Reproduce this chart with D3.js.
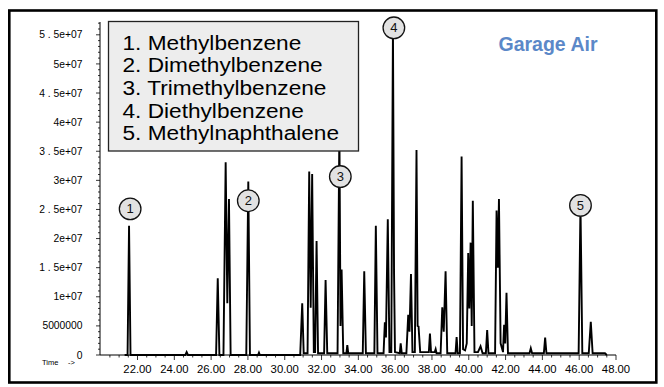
<!DOCTYPE html>
<html><head><meta charset="utf-8">
<script src="https://cdn.jsdelivr.net/npm/d3@7"></script>
<style>html,body{margin:0;padding:0;background:#fff;}svg{display:block;font-family:Arial,"Liberation Sans",sans-serif;}</style>
</head><body>
<svg id="c" width="664" height="387"></svg>
<script>
// ---- data ----
const traceTime = [21.3,21.46,21.54,21.62,24.6,24.67,24.74,26.27,26.36,26.45,26.67,26.79,26.88,26.97,27.06,27.91,28.02,28.11,28.55,28.6,28.65,
30.84,30.95,31.03,31.24,31.33,31.41,31.49,31.58,31.65,31.73,31.81,32.14,32.22,32.31,32.87,32.97,33.03,33.09,33.18,33.35,33.4,33.45,
34.24,34.32,34.41,34.87,34.95,35.04,35.37,35.44,35.5,35.6,35.69,35.79,35.88,35.94,35.99,36.25,36.3,36.36,36.61,36.71,36.78,36.86,36.94,
37.07,37.16,37.22,37.27,37.36,37.83,37.89,37.95,38.15,38.2,38.25,38.47,38.56,38.64,38.74,38.83,39.28,39.34,39.4,39.52,39.61,39.69,
39.8,39.89,39.97,40.03,40.1,40.16,40.22,40.31,40.5,40.64,40.75,40.93,41.0,41.07,41.43,41.51,41.58,41.64,41.73,41.86,41.92,41.98,42.05,42.13,
43.3,43.37,43.44,44.08,44.15,44.22,45.97,46.07,46.17,46.52,46.63,46.73,47.4,47.5];
const traceAbund = [0,0,22.2e6,0,0,0.5e6,0,0,13.2e6,0,0,33.1e6,8.9e6,26.8e6,0,0,29.8e6,0,0,0.4e6,0,
0,8.9e6,0.3e6,0.3e6,31.5e6,8.1e6,31.1e6,0.5e6,0.5e6,19.6e6,0.3e6,0.3e6,12.9e6,0.3e6,0.3e6,39e6,5e6,14.7e6,0.3e6,0.3e6,1.7e6,0.3e6,
0.3e6,14.4e6,0.3e6,0.3e6,22.2e6,0.3e6,0.3e6,5.6e6,3e6,23.3e6,0.5e6,0.5e6,56e6,14e6,0.5e6,0.3e6,2e6,0.3e6,0.3e6,6.9e6,4e6,13.9e6,0.5e6,
0.5e6,35.2e6,5e6,4.9e6,0.5e6,0.5e6,3.7e6,0.5e6,0.5e6,1e6,0.3e6,0.3e6,8.2e6,4e6,14.4e6,0.3e6,0.3e6,3.1e6,0.3e6,0.3e6,34.1e6,1e6,
0.8e6,2e6,17.5e6,8e6,19.3e6,5e6,26.5e6,0.5e6,0.5e6,1.5e6,0.3e6,0.3e6,4.3e6,0.3e6,0.3e6,24.8e6,15e6,26.8e6,2e6,0.5e6,5.2e6,2e6,10.7e6,0.3e6,
0.3e6,1.15e6,0.3e6,0.3e6,3e6,0.3e6,0.3e6,25.8e6,0.3e6,0.3e6,5.7e6,0.3e6,0.3e6,0];
const compounds = ["1. Methylbenzene","2. Dimethylbenzene","3. Trimethylbenzene","4. Diethylbenzene","5. Methylnaphthalene"];
const markerIds = [1,2,3,4,5];
const markerTime = [21.6,28.02,33.02,35.93,46.07];
const markerAbund = [25.1e6,26.5e6,30.65e6,56.2e6,25.7e6];
const yTickValues = [0,5e6,1e7,1.5e7,2e7,2.5e7,3e7,3.5e7,4e7,4.5e7,5e7,5.5e7];
const yTickLabels = ["0","5000000","1e+07","1 . 5e+07","2e+07","2 . 5e+07","3e+07","3 . 5e+07","4e+07","4 . 5e+07","5e+07","5 . 5e+07"];
const xTickValues = [22,24,26,28,30,32,34,36,38,40,42,44,46,48];
const title = "Garage Air";

// ---- drawing ----
const svg = d3.select("#c");
svg.append("rect").attr("x",9.3).attr("y",10.5).attr("width",647).attr("height",372)
  .attr("fill","none").attr("stroke","#000").attr("stroke-width",2.6);

const x = d3.scaleLinear().domain([20,48]).range([100.7,616]);
const y = d3.scaleLinear().domain([0,5.72e7]).range([355,22]);

// y axis
const gy = svg.append("g").attr("transform","translate(100,0)");
gy.append("line").attr("y1",y(0)).attr("y2",y(5.72e7)).attr("stroke","#000").attr("stroke-width",1);
gy.selectAll(".ym").data(d3.range(0,5.7e7+1,1e6)).enter().append("line")
  .attr("x1",d=> (Math.round(d/1e6)%5===0)?-4:-2).attr("x2",0)
  .attr("y1",d=>y(d)).attr("y2",d=>y(d)).attr("stroke","#000").attr("stroke-width",0.8);
gy.selectAll(".yl").data(yTickValues).enter().append("text")
  .attr("x",-17.5).attr("y",d=>y(d)+3.6).attr("text-anchor","end")
  .attr("font-size","10.3px").attr("fill","#000").text((d,i)=>yTickLabels[i]);

// x axis
const gx = svg.append("g").attr("transform","translate(0,355)");
gx.append("line").attr("x1",100).attr("x2",x(48)).attr("stroke","#000").attr("stroke-width",1);
gx.selectAll(".xm").data(d3.range(20.5,48.01,0.5)).enter().append("line")
  .attr("x1",d=>x(d)).attr("x2",d=>x(d)).attr("y1",0)
  .attr("y2",d=> (Math.abs(d%2)<1e-6)?5:2.5).attr("stroke","#000").attr("stroke-width",0.8);
gx.selectAll(".xl").data(xTickValues).enter().append("text")
  .attr("x",d=>x(d)).attr("y",18).attr("text-anchor","middle")
  .attr("font-size","11.3px").attr("fill","#000").text(d=>d.toFixed(2));
svg.append("text").attr("x",42).attr("y",365).attr("font-size","7.5px").text("Time");
svg.append("text").attr("x",68).attr("y",365).attr("font-size","7.5px").text("->");

// trace
const pts = traceTime.map((t,i)=>[t,traceAbund[i]]);
const line = d3.line().x(d=>x(d[0])).y(d=>y(d[1]));
svg.append("path").attr("d",line(pts)).attr("fill","none").attr("stroke","#000")
  .attr("stroke-width",1.9).attr("stroke-linejoin","miter");

// legend box
const lg = svg.append("g");
lg.append("rect").attr("x",108.5).attr("y",21.5).attr("width",250).attr("height",129.5)
  .attr("fill","#ededed").attr("stroke","#222").attr("stroke-width",1.3);
compounds.forEach((c,i)=>{
  lg.append("text").attr("transform",`translate(122.5,${49.5+i*22.7}) scale(1.1,1)`)
    .attr("font-size","20.6px").attr("fill","#000").text(c);
});

// markers
const mk = svg.selectAll(".mk").data(markerIds).enter().append("g")
  .attr("transform",(d,i)=>`translate(${x(markerTime[i])},${y(markerAbund[i])})`);
mk.append("circle").attr("r",10.8).attr("fill","#e2e2e2").attr("stroke","#111").attr("stroke-width",1.3);
mk.append("text").attr("y",4.6).attr("text-anchor","middle").attr("font-size","13px").attr("fill","#111").text(d=>d);

// title
svg.append("text").attr("x",548).attr("y",51).attr("text-anchor","middle")
  .attr("font-size","19.5px").attr("font-weight","bold").attr("fill","#5b88c8").text(title);
</script>
</body></html>
